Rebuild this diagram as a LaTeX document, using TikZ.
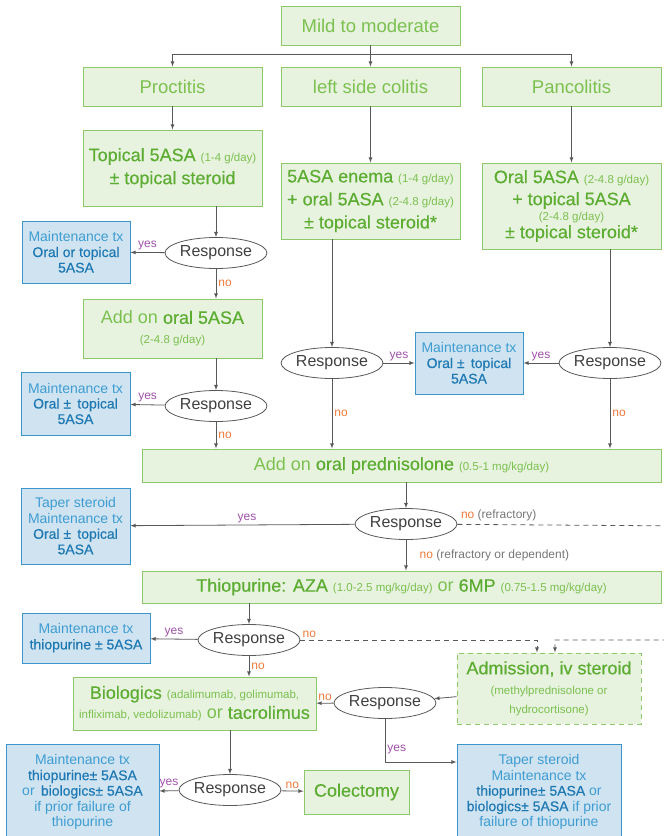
\documentclass[tikz,border=0pt]{standalone}
\usepackage{fontspec}
\setmainfont{Liberation Sans}
\newfontfamily\medfont{Liberation Sans}[FakeBold=0.4]
\usetikzlibrary{arrows,shapes.geometric}

\definecolor{greenfill}{HTML}{E7F2DF}
\definecolor{greenline}{HTML}{8DC96B}
\definecolor{greentxt}{HTML}{7CC150}
\definecolor{greendark}{HTML}{5DAD32}
\definecolor{bluefill}{HTML}{CFE4F0}
\definecolor{blueline}{HTML}{3C96CC}
\definecolor{bluetxt}{HTML}{3F9CD3}
\definecolor{bluedark}{HTML}{1E78B3}
\definecolor{linecol}{HTML}{595959}
\definecolor{yescol}{HTML}{A050AA}
\definecolor{nocol}{HTML}{F07A3C}
\definecolor{graytxt}{HTML}{777777}

\newcommand{\gb}[1]{{\color{greendark}\medfont #1}}
\newcommand{\bb}[1]{{\color{bluedark}\medfont #1}}
\newcommand{\dose}[1]{{\fontsize{11.5}{13}\selectfont #1}}

\begin{document}
\begin{tikzpicture}[x=1pt,y=-1pt,>=latex,
    gbox/.style={draw=greenline,fill=greenfill,text=greentxt,line width=0.9pt,
      align=center,inner sep=0pt,font=\fontsize{18}{23}\selectfont},
    bbox/.style={draw=blueline,fill=bluefill,text=bluetxt,line width=0.9pt,
      align=center,inner sep=0pt,font=\fontsize{14}{15.5}\selectfont},
    resp/.style={ellipse,draw=linecol,fill=white,text=black!75,line width=0.8pt,
      minimum width=90pt,minimum height=31pt,inner sep=0pt,font=\fontsize{16}{18}\selectfont},
    arr/.style={->,draw=linecol,line width=0.8pt},
    dash line/.style={dash pattern=on 5pt off 4pt},
    yeslbl/.style={text=yescol,font=\fontsize{12}{14}\selectfont,inner sep=2pt},
    nolbl/.style={text=nocol,font=\fontsize{12}{14}\selectfont,inner sep=2pt}]
    \useasboundingbox (0,0) rectangle (664,836);

    % top
    \node[gbox,minimum width=179pt,minimum height=39pt,font=\fontsize{18.5}{22}\selectfont] (1) at (370.5,25.5) {Mild to moderate};
    \node[gbox,minimum width=179pt,minimum height=39pt,font=\fontsize{18.5}{22}\selectfont] (2) at (172.5,86.5) {Proctitis};
    \node[gbox,minimum width=179pt,minimum height=39pt,font=\fontsize{18.5}{22}\selectfont] (3) at (370.5,86.5) {left side colitis};
    \node[gbox,minimum width=179pt,minimum height=39pt,font=\fontsize{18.5}{22}\selectfont] (4) at (571.5,86.5) {Pancolitis};
    \coordinate (b) at (370.5,54);

    % first line therapy
    \node[gbox,minimum width=179pt,minimum height=76pt] (5) at (172.5,168) {\gb{Topical 5ASA} \dose{(1-4 g/day)}\\ \gb{± topical steroid}};
    \node[gbox,minimum width=179pt,minimum height=76pt] (6) at (370.5,201) {\gb{5ASA enema} \dose{(1-4 g/day)}\\ \gb{+ oral 5ASA} \dose{(2-4.8 g/day)}\\ \gb{± topical steroid*}};
    \node[gbox,minimum width=179pt,minimum height=86pt] (7) at (571.5,206) {\gb{Oral 5ASA} \dose{(2-4.8 g/day)}\\[-1pt] \gb{+ topical 5ASA}\\[-8pt] \dose{(2-4.8 g/day)}\\[-5pt] \gb{± topical steroid*}};

    \node[resp] (8) at (216,253) {Response};
    \node[bbox,minimum width=108pt,minimum height=62pt] (9) at (76,252) {Maintenance tx\\ \bb{Oral or topical}\\ \bb{5ASA}};
    \node[gbox,minimum width=179pt,minimum height=59pt] (10) at (172.5,328.5) {Add on \gb{oral 5ASA}\\[-3pt] \dose{(2-4.8 g/day)}};
    \node[resp] (11) at (216,406) {Response};
    \node[bbox,minimum width=109pt,minimum height=63pt] (12) at (75.5,403.5) {Maintenance tx\\ \bb{Oral ± \,topical}\\ \bb{5ASA}};
    \node[resp] (13) at (332,363) {Response};
    \node[bbox,minimum width=108pt,minimum height=62pt] (14) at (469,363) {Maintenance tx\\ \bb{Oral ± \,topical}\\ \bb{5ASA}};
    \node[resp] (15) at (610,363) {Response};

    % steroid
    \node[gbox,minimum width=519pt,minimum height=33pt] (16) at (401.5,465.5) {Add on \gb{oral prednisolone} \dose{(0.5-1 mg/kg/day)}};
    \node[resp] (17) at (406,524) {Response};
    \node[bbox,minimum width=109pt,minimum height=76pt] (18) at (75.5,526) {Taper steroid\\ Maintenance tx\\ \bb{Oral ± \,topical}\\ \bb{5ASA}};

    % thiopurine
    \node[gbox,minimum width=519pt,minimum height=32pt] (19) at (401.5,587) {\gb{Thiopurine: AZA} \dose{(1.0-2.5 mg/kg/day)} or \gb{6MP} \dose{(0.75-1.5 mg/kg/day)}};
    \node[resp] (20) at (249,640) {Response};
    \node[bbox,minimum width=128pt,minimum height=50pt] (21) at (86,638) {Maintenance tx\\ \bb{thiopurine ± 5ASA}};

    % severe / rescue
    \node[gbox,dash line,minimum width=184pt,minimum height=71pt,font=\fontsize{18}{20}\selectfont] (22) at (549,688.5) {\gb{Admission, iv steroid}\\ \dose{(methylprednisolone or}\\[-1pt] \dose{hydrocortisone)}};
    \node[resp] (23) at (385,703) {Response};
    \node[gbox,minimum width=243pt,minimum height=53pt,font=\fontsize{18}{20}\selectfont] (24) at (194.5,703.5) {\gb{Biologics} \dose{(adalimumab, golimumab,}\\ \dose{infliximab, vedolizumab)} or \gb{tacrolimus}};
    \node[resp] (25) at (230,790) {Response};
    \node[bbox,minimum width=153pt,minimum height=96pt] (26) at (82.5,792) {Maintenance tx\\ \bb{thiopurine± 5ASA}\\ or \,\bb{biologics± 5ASA}\\ if prior failure of\\ thiopurine};
    \node[gbox,minimum width=105pt,minimum height=44pt] (27) at (356.5,792) {\gb{Colectomy}};
    \node[bbox,minimum width=164pt,minimum height=96pt] (28) at (539,792) {Taper steroid\\ Maintenance tx\\ \bb{thiopurine± 5ASA} or\\ \bb{biologics± 5ASA} if prior\\ failure of thiopurine};

    \coordinate (r1) at (690,526);
    \coordinate (r2) at (690,640);
    \coordinate (r3) at (555,640);
    \coordinate (r4) at (537,640);

    % connectors
    \draw[linecol,line width=0.8pt] (1) -- (b);
    \draw[arr] (b) -| (2);
    \draw[arr] (b) -- (3);
    \draw[arr] (b) -| (4);
    \draw[arr] (2) -- (5);
    \draw[arr] (3) -- (6);
    \draw[arr] (4) -- (7);

    \draw[arr] (8 |- 5.south) -- (8);
    \draw[arr] (8) -- node[yeslbl,above] {yes} (9);
    \draw[arr] (8) -- node[nolbl,right] {no} (8 |- 10.north);
    \draw[arr] (11 |- 10.south) -- (11);
    \draw[arr] (11) -- node[yeslbl,above] {yes} (12);
    \draw[arr] (11) -- node[nolbl,right] {no} (11 |- 16.north);
    \draw[arr] (13 |- 6.south) -- (13);
    \draw[arr] (13) -- node[yeslbl,above] {yes} (14);
    \draw[arr] (13) -- node[nolbl,right] {no} (13 |- 16.north);
    \draw[arr] (15 |- 7.south) -- (15);
    \draw[arr] (15) -- node[yeslbl,above] {yes} (14);
    \draw[arr] (15) -- node[nolbl,right] {no} (15 |- 16.north);

    \draw[arr] (17 |- 16.south) -- (17);
    \draw[arr] (17) -- node[yeslbl,above,pos=0.48] {yes} (18);
    \draw[arr] (17) -- node[right,xshift=10pt,font=\fontsize{12}{14}\selectfont] {\color{nocol}no \color{graytxt}(refractory or dependent)} (17 |- 19.north);
    \draw[arr,dash line] (17) -- node[pos=0,above right,font=\fontsize{12}{14}\selectfont] {\color{nocol}no \color{graytxt}(refractory)} (r1) -- (r2) -- (r3) -- (r3 |- 22.north);

    \draw[arr] (20 |- 19.south) -- (20);
    \draw[arr] (20) -- node[yeslbl,above] {yes} (21);
    \draw[arr] (20) -- node[nolbl,right] {no} (20 |- 24.north);
    \draw[arr,dash line] (20) -- node[nolbl,pos=0,above right] {no} (r4) -- (r4 |- 22.north);

    \draw[arr] (22) -- (23);
    \draw[arr] (23) -- node[nolbl,above] {no} (24);
    \draw[arr] (23) |- node[yeslbl,pos=0.35,right] {yes} ([yshift=30pt]28.west);
    \draw[arr] (25 |- 24.south) -- (25);
    \draw[arr] (25) -- node[yeslbl,above] {yes} (26);
    \draw[arr] (25) -- node[nolbl,above] {no} (27);
\end{tikzpicture}
\end{document}
